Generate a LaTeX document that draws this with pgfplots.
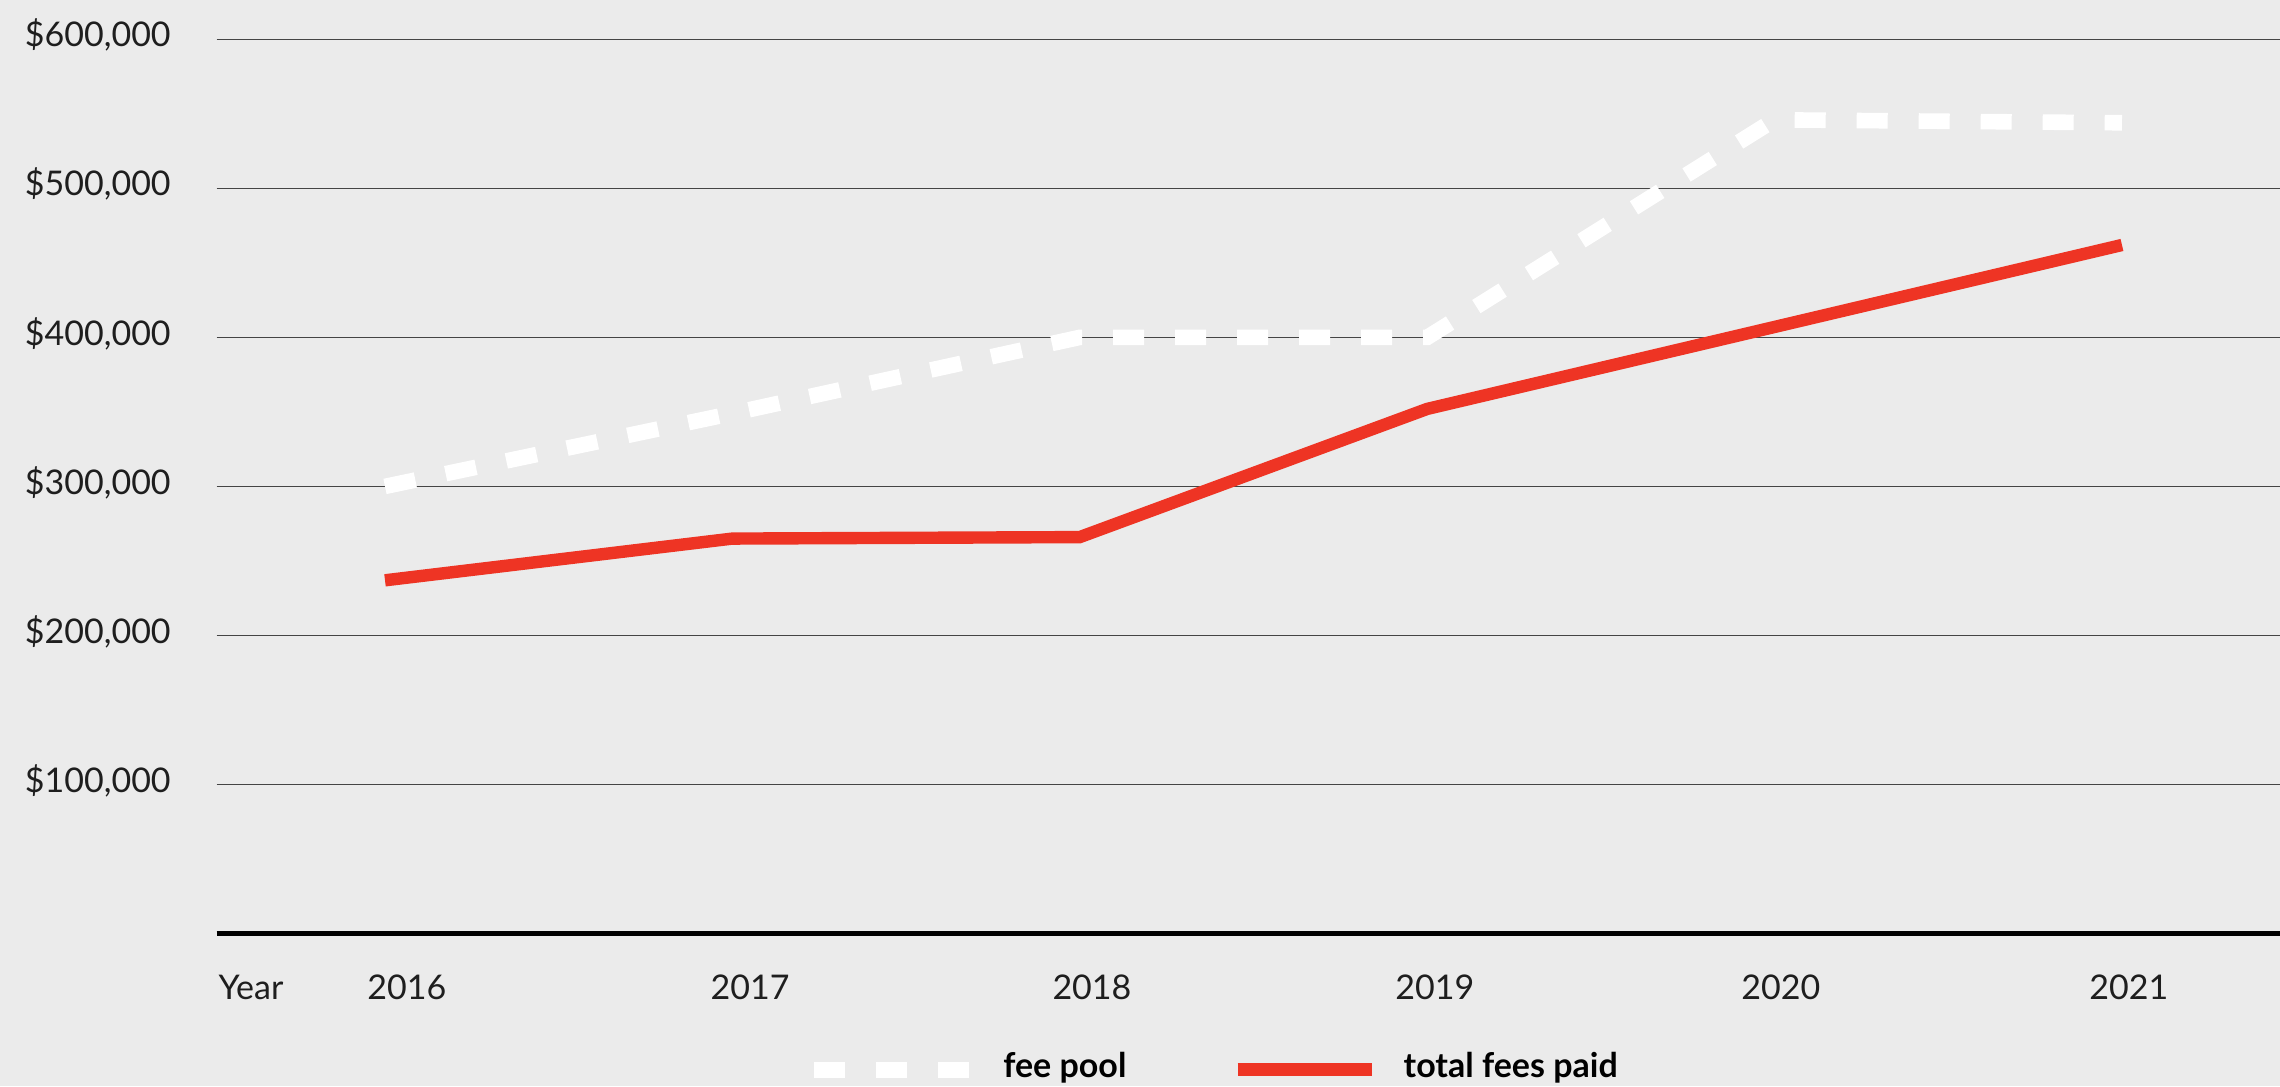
\documentclass[border=0pt]{standalone}
\usepackage{pgfplots}
\pgfplotsset{compat=1.18}
\usepackage{fontspec}
\setmainfont{Lato}
\definecolor{bg}{HTML}{EBEBEB}
\definecolor{feered}{HTML}{EE3424}
\definecolor{gridc}{HTML}{444444}
\definecolor{txt}{HTML}{1E1E1E}
\newlength\feew
\begin{document}%
\settowidth\feew{\fontsize{8.5}{10}\selectfont\bfseries fee pool}%
\begin{tikzpicture}
\fill[bg] (-54.175pt,-38.125pt) rectangle (515.825pt,233.375pt);
\begin{axis}[
  at={(0,0)}, anchor=south west,
  scale only axis, width=515.825pt, height=223.55pt,
  xmin=-0.4845, xmax=5.455, ymin=0, ymax=600000,
  axis line style={draw=none},
  major tick length=0pt,
  tick style={draw=none},
  scaled y ticks=false,
  xtick={0.063,1.051,2.035,3.022,4.018,5.020},
  xticklabels={2016,2017,2018,2019,2020,2021},
  ytick={100000,200000,300000,400000,500000,600000},
  yticklabels={{\$100,000},{\$200,000},{\$300,000},{\$400,000},{\$500,000},{\$600,000}},
  ymajorgrids, grid style={gridc, line width=0.35pt},
  extra y ticks={0}, extra y tick labels={},
  extra y tick style={ymajorgrids=true, grid style={black, line width=1.4pt}},
  tick label style={font=\fontsize{8.5}{10}\selectfont, text=txt, inner sep=0pt},
  yticklabel style={anchor=east, xshift=-11.3pt, yshift=1pt},
  xticklabel style={anchor=base, yshift=-16.5pt},
  clip=false,
  legend columns=2,
  legend style={at={(0,0)}, anchor=north west, xshift=147.4pt, yshift=-29.8pt,
    draw=none, fill=none, inner sep=0pt, outer sep=0pt, column sep=0pt,
    cells={anchor=base west},
    nodes={inner sep=0pt, font=\fontsize{8.5}{10}\selectfont\bfseries, text=black}},
]
\addplot[white, line width=3.9pt, dash pattern=on 7.75pt off 7.75pt,
  legend image code/.code={
    \draw[white, line width=4pt, dash pattern=on 7.75pt off 7.75pt] (0pt,2.1pt) -- (38.75pt,2.1pt);
    \path (45.3pt,2.1pt);
  }] coordinates {
  (0,300000) (1,349000) (2,400000) (3,400000) (4,546000) (5,544000)
};
\addlegendentry{fee pool}
\addplot[feered, line width=3.1pt,
  legend image code/.code={
    \path ({\feew-57pt},2.1pt);
    \draw[feered, line width=3.25pt] (0pt,2.1pt) -- (33.5pt,2.1pt);
    \path (40pt,2.1pt);
  }] coordinates {
  (0,237000) (1,265000) (2,266000) (3,352000) (4,407000) (5,462000)
};
\addlegendentry{total fees paid}
\node[anchor=base west, inner sep=0pt, xshift=0.3pt, yshift=-16.5pt,
  font=\fontsize{8.5}{10}\selectfont, text=txt] at (rel axis cs:0,0) {Year};
\end{axis}
\pgfresetboundingbox
\useasboundingbox (-54.175pt,-38.125pt) rectangle (515.825pt,233.375pt);
\end{tikzpicture}%
\end{document}
